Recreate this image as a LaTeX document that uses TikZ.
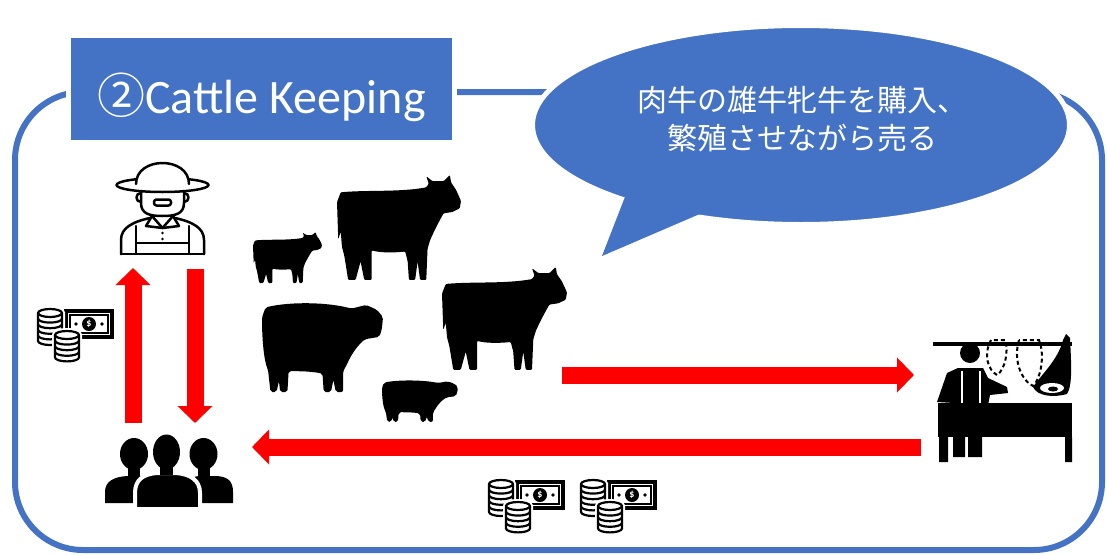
\documentclass[tikz,border=0pt]{standalone}
\usepackage{fontspec}
\setmainfont{Carlito}
\newfontfamily\jpfont{Noto Sans CJK JP}
\usepackage{tikz}
\usetikzlibrary{arrows.meta,shapes.geometric,positioning,calc}
\definecolor{cblue}{HTML}{4472C4}
\definecolor{cred}{HTML}{FF0000}
\tikzset{
  cframe/.style={draw=cblue, line width=6pt, rounded corners=68pt},
  ctitle/.style={rectangle, fill=cblue, draw=white, line width=5pt, text=white,
                 minimum width=386pt, minimum height=107pt, inner sep=0pt,
                 text height=51pt, text depth=3pt,
                 font=\fontsize{48}{52}\selectfont},
  cbubble/.style={ellipse, fill=cblue, draw=white, line width=5pt,
                  minimum width=537pt, minimum height=199pt, inner sep=0pt},
  cspeech/.style={text=white, align=center, inner sep=0pt,
                  font=\jpfont\fontsize{30}{38}\selectfont},
  cflow/.style={draw=cred, line width=17pt, -{Triangle[length=17pt, width=34pt]}},
  cicon/.style={line width=2.5pt, line cap=round, line join=round},
  % silhuetas de gado
  holstein/.pic={
    \fill[rounded corners=1pt] (3,14) .. controls (25,12) and (50,14) .. (72,10)
      -- (74,7) -- (72,1) -- (77,5) -- (86,5) -- (91,0) -- (92,6) -- (96,12)
      -- (100,21) -- (99,27) -- (93,30) -- (86,31)
      .. controls (82,38) and (78,46) .. (75,53) -- (73,60) -- (72,85) -- (67,85)
      -- (65,70) -- (63,85) -- (58,85) -- (57,70) -- (55,62)
      .. controls (45,63) and (35,63) .. (28,61) -- (28,85) -- (22,85) -- (19,70)
      -- (15,85) -- (9,85) -- (6,66) -- (4,58) -- (3,46) -- (1,52) -- (0,22) -- cycle;
  },
  angus/.pic={
    \fill[rounded corners=2pt] (3,6) .. controls (25,1) and (55,2) .. (74,7)
      -- (86,4) -- (95,8) -- (100,14) -- (99,24) -- (97,30) -- (85,32)
      .. controls (78,38) and (73,46) .. (70,53) -- (67,58) -- (67,75) -- (61,75)
      -- (59,65) -- (57,75) -- (51,75) -- (50,60)
      .. controls (40,58) and (30,58) .. (22,58) -- (21,75) -- (15,75) -- (14,66)
      -- (12,75) -- (7,75) -- (5,57) .. controls (2,50) and (0,35) .. (0,14) -- cycle;
  },
  % pilha de moedas, #1 = numero de moedas
  pics/coins/.style={code={
    \pgfmathtruncatemacro\clast{#1-1}
    \filldraw[fill=white, draw=black, line width=2.2pt,
              preaction={draw=white, line width=6pt}]
      (-12,0) -- (-12,#1*5.6) arc[start angle=180, end angle=0, x radius=12, y radius=4]
      -- (12,0) arc[start angle=0, end angle=-180, x radius=12, y radius=4] -- cycle;
    \draw[line width=2.2pt] (-12,0) arc[start angle=180, end angle=0, x radius=12, y radius=4];
    \foreach \k in {1,...,\clast}
      \draw[line width=2.2pt] (-12,\k*5.6) arc[start angle=180, end angle=0, x radius=12, y radius=4];
  }},
  cash/.pic={
    \draw[line width=3.4pt] (30,4) rectangle (76,30);
    \draw[line width=1.4pt] (34,8) rectangle (72,26);
    \fill (53,17) circle (7);
    \node[text=white, inner sep=0pt, font=\fontsize{10}{10}\selectfont\bfseries] (dollar) at (53,17) {\$};
    \fill (40,17) circle (1.9) (66,17) circle (1.9);
    \pic at (14,6) {coins=5};
    \pic at (31,28) {coins=4};
  },
  farmer/.pic={
    \begin{scope}[cicon]
      \draw (52.5,25) ellipse [x radius=46, y radius=7];
      \fill[white] (26,24) .. controls (26,-4) and (79,-4) .. (79,24) -- cycle;
      \draw (26,24) .. controls (26,-4) and (79,-4) .. (79,24);
      \draw (31,31) -- (31,43) .. controls (31,54) and (40,56) .. (52.5,56)
            .. controls (65,56) and (74,54) .. (74,43) -- (74,31);
      \draw (31,33) .. controls (25,33) and (25,42) .. (31,42);
      \draw (74,33) .. controls (80,33) and (80,42) .. (74,42);
      \draw[rounded corners=2.5pt] (44,39.5) rectangle (61,45.5);
      \draw (42,56) -- (36,66) -- (52.5,68) -- (69,66) -- (63,56);
      \draw (42,56) -- (52.5,68) -- (63,56);
      \draw (11,94) -- (11,80) .. controls (11,68) and (22,62) .. (40,58);
      \draw (94,94) -- (94,80) .. controls (94,68) and (83,62) .. (65,58);
      \draw (11,94) -- (94,94);
      \draw (26,66) -- (26,94) (79,66) -- (79,94) (26,83) -- (79,83);
    \end{scope}
    \fill (52.5,73) circle (1.4) (52.5,79) circle (1.4);
  },
  crowd/.pic={
    \fill (29,19) ellipse [x radius=14, y radius=16];
    \fill (23,32) rectangle (35,43);
    \fill (0,68) -- (0,57) .. controls (0,46) and (9,42) .. (22,41) -- (36,41)
          .. controls (45,42) and (48,46) .. (48,57) -- (48,68) -- cycle;
    \fill (98.5,19) ellipse [x radius=14, y radius=16];
    \fill (92.5,32) rectangle (104.5,43);
    \fill (82,68) -- (82,57) .. controls (82,46) and (85,42) .. (94,41) -- (112,41)
          .. controls (123,42) and (128,46) .. (128,57) -- (128,68) -- cycle;
    \filldraw[draw=white, line width=4pt] (30,74) -- (30,58) .. controls (30,45) and (38,39) .. (52,38)
          -- (71,38) .. controls (85,39) and (95,45) .. (95,58) -- (95,74) -- cycle;
    \fill (55,28) rectangle (68,40);
    \fill (61.5,17) ellipse [x radius=13.5, y radius=17.5];
  },
  butcher/.pic={
    \fill (0,12) rectangle (139,16);
    \fill (37,23) circle (10);
    \fill (4,72) -- (14,43) -- (25,38) -- (50,38) -- (55,48) -- (74,57) -- (75,63)
          -- (57,65) -- (55,75) -- cycle;
    \draw[white, line width=2pt] (29,41) -- (29,73) (47,41) -- (47,73);
    \fill (5,73) rectangle (139,107);
    \fill (6,107) rectangle (15,132) (132,107) rectangle (139,132);
    \fill (20,107) rectangle (32,127) (35,107) rectangle (49,127);
    \draw[line width=2pt, dash pattern=on 4pt off 3pt]
      (58,10) .. controls (50,25) and (55,40) .. (64,45) .. controls (72,40) and (76,20) .. (72,10) -- cycle;
    \draw[line width=2pt, dash pattern=on 4pt off 3pt]
      (86,10) .. controls (80,30) and (88,50) .. (100,56) .. controls (108,48) and (112,25) .. (106,10) -- cycle;
    \fill (133,4) -- (137,8) .. controls (138,30) and (140,55) .. (134,64)
          .. controls (120,68) and (104,66) .. (100,57) .. controls (108,45) and (125,30) .. (130,10) -- cycle;
    \fill[white] (119,58) ellipse [x radius=12, y radius=5];
    \fill (120,59) ellipse [x radius=5, y radius=2.5];
  },
}

\begin{document}
\begin{tikzpicture}[x=1pt,y=-1pt]
  \useasboundingbox (0,0) rectangle (1107,554);

  % moldura
  \draw[cframe] (15,92) rectangle (1102,550);

  % titulo
  \node[ctitle] (title) at (261.5,89) {{\jpfont ②}Cattle Keeping};

  % balao de fala
  \path[draw=white, line width=10pt, line join=round] (630,190) -- (602,256) -- (714,212);
  \node[cbubble] (bubble) at (801,125) {};
  \fill[cblue] (630,184) -- (602,256) -- (716,207) -- cycle;
  \node[cspeech] (speech) at (802,119) {肉牛の雄牛牝牛を購入、\\繁殖させながら売る};

  % gado
  \pic[xscale=.69, yscale=.6] at (253,232) {holstein};
  \pic[xscale=1.24, yscale=1.235] at (337,175) {holstein};
  \pic[xscale=1.25, yscale=1.21] at (442,267) {holstein};
  \pic[xscale=1.21, yscale=1.227] at (262,300) {angus};
  \pic[xscale=.76, yscale=.573] at (382,379) {angus};

  % pessoas e dinheiro
  \pic at (110,160) {farmer};
  \pic at (105,435) {crowd};
  \pic at (933,330) {butcher};
  \pic at (36,307) {cash};
  \pic at (487,478) {cash};
  \pic at (579,478) {cash};

  % fluxos
  \coordinate (Ua) at (133,423);
  \coordinate (Ub) at (133,268);
  \coordinate (Da) at (195,269);
  \coordinate (Db) at (195,423);
  \coordinate (Sa) at (562,375);
  \coordinate (Sb) at (914,375);
  \coordinate (Pa) at (921,447);
  \coordinate (Pb) at (252,447);
  \draw[cflow] (Ua) -- (Ub);
  \draw[cflow] (Da) -- (Db);
  \draw[cflow] (Sa) -- (Sb);
  \draw[cflow] (Pa) -- (Pb);

\end{tikzpicture}
\end{document}
